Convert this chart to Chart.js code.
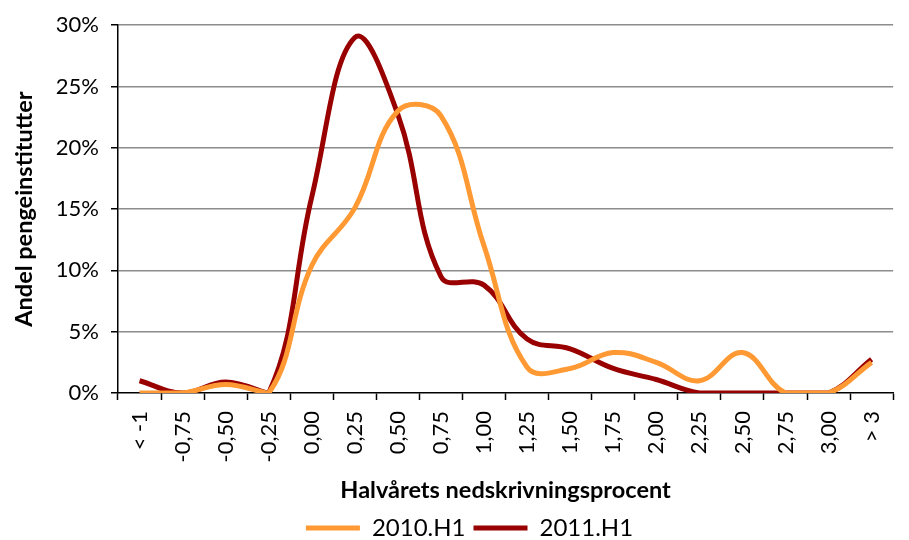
<!DOCTYPE html>
<html>
<head>
<meta charset="utf-8">
<script src="https://cdn.jsdelivr.net/npm/chart.js@4"></script>
<style>
  body { margin: 0; background: #fff; }
  canvas { display: block; }
</style>
</head>
<body>
<canvas id="graf" width="909" height="540"></canvas>
<script>
const kategorier = ['< -1', '-0,75', '-0,50', '-0,25', '0,00', '0,25', '0,50', '0,75', '1,00',
    '1,25', '1,50', '1,75', '2,00', '2,25', '2,50', '2,75', '3,00', '> 3'];
const h2010 = [0, 0, 0.7, 0, 10.4, 15.1, 23.0, 22.6, 12.0, 2.1, 2.0, 3.3, 2.5, 1.0, 3.3, 0, 0, 2.5];
const h2011 = [1.0, 0, 0.9, 0, 16.0, 29.0, 22.7, 9.5, 8.8, 4.4, 3.6, 2.0, 1.1, 0, 0, 0, 0, 2.75];
const yMin = 0, yMax = 30, yStep = 5;

Chart.defaults.font.family = 'Lato';
Chart.defaults.color = '#000';

const linje = (label, data, color) => ({
    label: label,
    data: data,
    borderColor: color,
    backgroundColor: color,
    borderWidth: 5,
    pointRadius: 0,
    tension: 0.4,
    fill: false
});

new Chart(document.getElementById('graf'), {
    type: 'line',
    data: {
        labels: kategorier,
        datasets: [
            linje('2010.H1', h2010, '#ff9933'),
            linje('2011.H1', h2011, '#990000')
        ]
    },
    options: {
        responsive: false,
        animation: false,
        // venstre padding skubber legenden lidt mod højre som i originalen
        layout: { padding: { top: 23, left: 30, right: 0, bottom: -10 } },
        plugins: {
            tooltip: { enabled: false },
            legend: {
                position: 'bottom',
                labels: {
                    font: { size: 24 },
                    boxWidth: 54,
                    boxHeight: 5,
                    padding: 8,
                    generateLabels: chart => Chart.defaults.plugins.legend.labels.generateLabels(chart)
                        .map(l => ({ ...l, lineWidth: 0 }))
                }
            }
        },
        scales: {
            x: {
                offset: true,
                grid: { drawOnChartArea: false, offset: true, tickLength: 7, tickColor: '#000', tickWidth: 1.5 },
                border: { color: '#000', width: 1.5 },
                ticks: { minRotation: 90, maxRotation: 90, autoSkip: false, padding: 11, font: { size: 22 } },
                title: {
                    display: true,
                    text: 'Halvårets nedskrivningsprocent',
                    font: { size: 23.5, weight: 'bold', lineHeight: 1 },
                    padding: { top: 0, bottom: 6 }
                },
                afterFit: s => { s.height = 115; }
            },
            y: {
                min: yMin,
                max: yMax,
                grid: {
                    color: c => c.tick && c.tick.value === 0 ? 'rgba(0,0,0,0)' : '#8c8c8c',
                    lineWidth: 1.5,
                    tickLength: 7,
                    tickColor: '#000',
                    tickWidth: 1.5
                },
                border: { color: '#000', width: 1.5 },
                ticks: { stepSize: yStep, padding: 12, font: { size: 22 }, callback: v => v + '%' },
                title: {
                    display: true,
                    text: 'Andel pengeinstitutter',
                    font: { size: 23.5, weight: 'bold' },
                    padding: { top: -20, bottom: 0 }
                },
                afterFit: s => { s.width = 88; }
            }
        }
    }
});
</script>
</body>
</html>
